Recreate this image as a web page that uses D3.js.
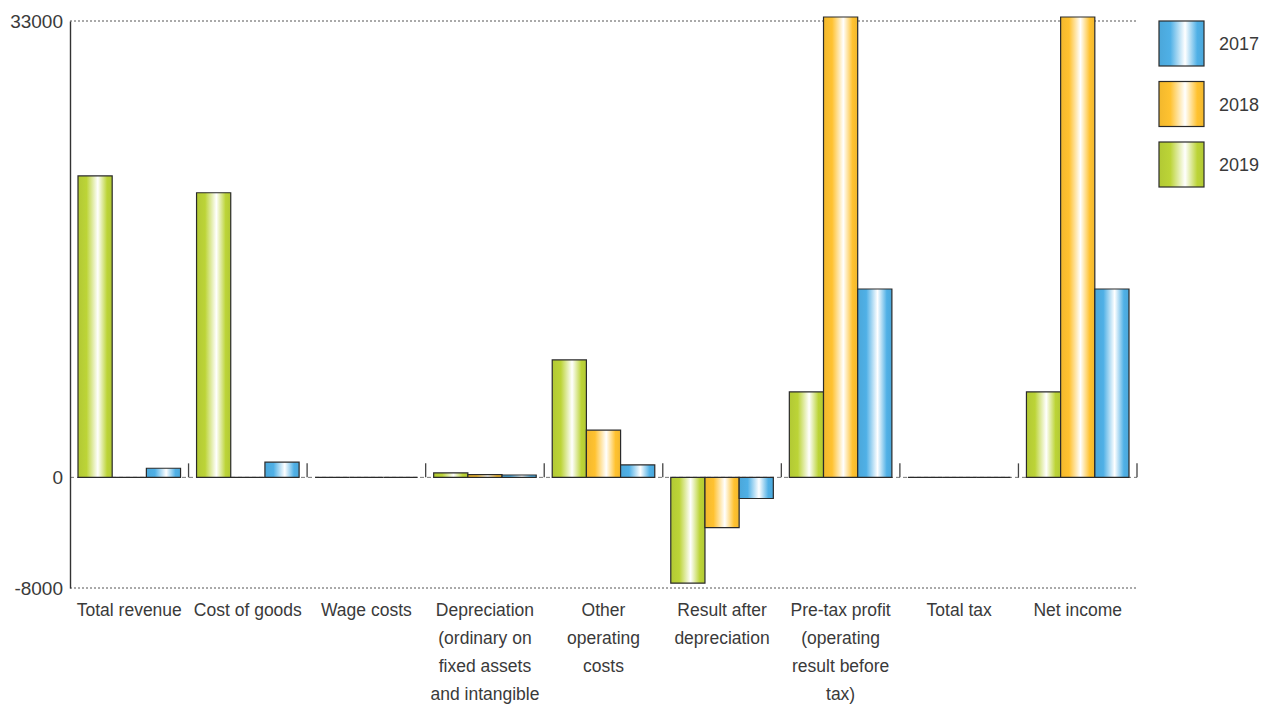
<!DOCTYPE html>
<html>
<head>
<meta charset="utf-8">
<script src="https://cdn.jsdelivr.net/npm/d3@7"></script>
<style>
  body { margin: 0; background: #fff; }
  text { font-family: "Liberation Sans", "Helvetica Neue", Arial, sans-serif; fill: #3a3a3a; }
</style>
</head>
<body>
<div id="chart"></div>
<script>
// data
var categories = [
  ["Total revenue"],
  ["Cost of goods"],
  ["Wage costs"],
  ["Depreciation", "(ordinary on", "fixed assets", "and intangible"],
  ["Other", "operating", "costs"],
  ["Result after", "depreciation"],
  ["Pre-tax profit", "(operating", "result before", "tax)"],
  ["Total tax"],
  ["Net income"]
];
var years = ["2019", "2018", "2017"];
var values2019 = [21800, 20580, 0, 320, 8490, -7650, 6180, 0, 6180];
var values2018 = [0, 0, 0, 200, 3410, -3630, 33290, 0, 33290];
var values2017 = [660, 1100, 0, 170, 900, -1530, 13620, 0, 13620];
var yTicks = [-8000, 0, 33000];
var legendYears = ["2017", "2018", "2019"];
var colors = {"2017": "#4fb0e6", "2018": "#ffc230", "2019": "#bcd437"};

var series = {"2019": values2019, "2018": values2018, "2017": values2017};

var margin = {top: 21, left: 70},
    width = 1137 - margin.left,
    height = 588 - margin.top;

var svg = d3.select("#chart")
    .append("svg")
    .attr("width", 1267)
    .attr("height", 704);

// gradients for the shiny bars
var defs = svg.append("defs");
Object.keys(colors).forEach(function(k) {
  var g = defs.append("linearGradient")
      .attr("id", "grad" + k)
      .attr("x1", "0%").attr("x2", "100%").attr("y1", "0%").attr("y2", "0%");
  g.append("stop").attr("offset", "0%").attr("stop-color", d3.color(colors[k]).darker(0.15));
  g.append("stop").attr("offset", "25%").attr("stop-color", colors[k]);
  g.append("stop").attr("offset", "58%").attr("stop-color", "#ffffff");
  g.append("stop").attr("offset", "85%").attr("stop-color", colors[k]);
  g.append("stop").attr("offset", "100%").attr("stop-color", d3.color(colors[k]).darker(0.15));
});

var g = svg.append("g")
    .attr("transform", "translate(" + margin.left + "," + margin.top + ")");

var x0 = d3.scaleBand()
    .domain(d3.range(categories.length))
    .range([0, width]);

var x1 = d3.scaleBand()
    .domain(years)
    .range([8, x0.bandwidth() - 8]);

var y = d3.scaleLinear()
    .domain([-8000, 33000])
    .range([height, 0]);

// dotted lines top and bottom, dashed zero line
g.selectAll("line.grid")
  .data(yTicks)
  .join("line")
    .attr("class", "grid")
    .attr("x1", 0)
    .attr("x2", width)
    .attr("y1", d => y(d))
    .attr("y2", d => y(d))
    .attr("stroke", d => d === 0 ? "#777" : "#555")
    .attr("stroke-width", 1)
    .attr("stroke-dasharray", d => d === 0 ? "4,3" : "2,2");

// y axis
var yAxis = g.append("g")
    .attr("class", "y-axis")
    .call(d3.axisLeft(y).tickValues(yTicks).tickSize(0).tickPadding(7).tickFormat(d => String(d)));
yAxis.select(".domain")
    .attr("stroke", "#333")
    .attr("stroke-width", 1.4);
yAxis.selectAll("text")
    .style("font-size", "19px")
    .style("font-family", "'Liberation Sans', Arial, sans-serif")
    .attr("fill", "#3a3a3a");

// group separators
g.selectAll("line.sep")
  .data(d3.range(1, categories.length + 1))
  .join("line")
    .attr("class", "sep")
    .attr("x1", d => d * x0.step())
    .attr("x2", d => d * x0.step())
    .attr("y1", y(0) - 14)
    .attr("y2", y(0))
    .attr("stroke", "#444")
    .attr("stroke-width", 1.3);

// bars (paths so that zero-height bars still show their outline)
var rows = [];
categories.forEach(function(c, i) {
  years.forEach(function(yr) {
    rows.push({i: i, year: yr, value: series[yr][i]});
  });
});

g.selectAll("path.bar")
  .data(rows)
  .join("path")
    .attr("class", "bar")
    .attr("d", function(d) {
      var bx = x0(d.i) + x1(d.year),
          by = y(Math.max(0, d.value)),
          bw = x1.bandwidth(),
          bh = Math.abs(y(d.value) - y(0));
      return "M" + bx + "," + by + "h" + bw + "v" + bh + "h" + (-bw) + "Z";
    })
    .attr("fill", d => "url(#grad" + d.year + ")")
    .attr("stroke", "#2a2a2a")
    .attr("stroke-width", 1.2);

// category labels
var labels = g.selectAll("text.cat")
  .data(categories)
  .join("text")
    .attr("class", "cat")
    .attr("text-anchor", "middle")
    .attr("transform", (d, i) => "translate(" + (x0(i) + x0.bandwidth() / 2) + "," + (height + 28) + ")")
    .style("font-size", "17.5px");
labels.selectAll("tspan")
  .data(d => d)
  .join("tspan")
    .attr("x", 0)
    .attr("dy", (d, j) => j === 0 ? 0 : 28)
    .text(d => d);

// legend
var legend = svg.append("g")
    .attr("transform", "translate(1159,21)");
var item = legend.selectAll("g")
  .data(legendYears)
  .join("g")
    .attr("transform", (d, i) => "translate(0," + (i * 60.5) + ")");
item.append("rect")
    .attr("width", 45)
    .attr("height", 45)
    .attr("fill", d => "url(#grad" + d + ")")
    .attr("stroke", "#2a2a2a")
    .attr("stroke-width", 1.2);
item.append("text")
    .attr("x", 60)
    .attr("y", 23)
    .attr("dy", "0.35em")
    .style("font-size", "18px")
    .text(d => d);
</script>
</body>
</html>
